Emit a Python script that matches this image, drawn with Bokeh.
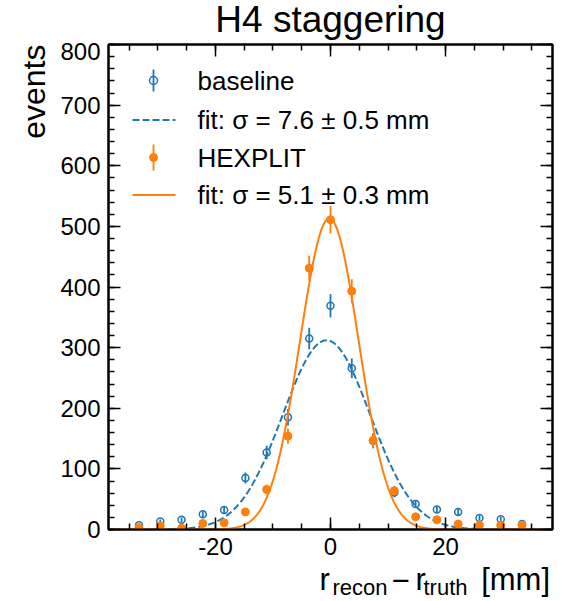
import numpy as np
from bokeh.plotting import figure
from bokeh.layouts import column
from bokeh.models import (Range1d, LinearAxis, SingleIntervalTicker, Label, Arrow,
                          BoxAnnotation, CustomJSTickFormatter, Title)
from bokeh.embed import file_html
from bokeh.resources import INLINE

# ---------------- data ----------------
bin_centers = [-33.3, -29.6, -25.9, -22.2, -18.5, -14.8, -11.1, -7.4, -3.7, 0.0,
               3.7, 7.4, 11.1, 14.8, 18.5, 22.2, 25.9, 29.6, 33.3]
baseline_counts = [7, 13, 16, 25, 32, 85, 127, 185, 315, 369,
                   266, 146, 61, 42, 33, 29, 19, 17, 9]
hexplit_counts = [3, 6, 2, 10, 11, 29, 66, 154, 431, 511,
                  393, 147, 64, 21, 16, 9, 7, 7, 7]

baseline_fit = {"amp": 312.0, "mu": -0.7, "sigma": 7.6}
hexplit_fit = {"amp": 513.0, "mu": -0.2, "sigma": 5.1}

legend_labels = ["baseline", "fit: σ = 7.6 ± 0.5 mm", "HEXPLIT", "fit: σ = 5.1 ± 0.3 mm"]
title_text = "H4 staggering"
y_label = "events"

x_lo, x_hi = -38.6, 38.6
y_lo, y_hi = 0, 800

BLUE = "#1f77b4"
ORANGE = "#ff7f0e"
FONT = "Liberation Sans"

W = 576
LEFT_B = 108        # left border: frame starts here (strips are frame-aligned to it)
TOP_H = 42          # title strip
MAIN_BT = 2         # main figure top border (frame top at 44)
FRAME_H = 485
MAIN_BB = 36
MAIN_H = MAIN_BT + FRAME_H + MAIN_BB
BOT_H = 601 - TOP_H - MAIN_H


def text_strip(width, height):
    f = figure(width=width, height=height, output_backend="svg", toolbar_location=None,
               x_axis_type=None, y_axis_type=None, min_border=0,
               x_range=Range1d(0, 1), y_range=Range1d(0, 1))
    f.outline_line_color = None
    f.background_fill_color = "white"
    f.border_fill_color = "white"
    f.xgrid.visible = False
    f.ygrid.visible = False
    return f


# ---------------- main figure ----------------
p = figure(width=W, height=MAIN_H, output_backend="svg", toolbar_location=None,
           x_range=Range1d(x_lo, x_hi), y_range=Range1d(y_lo, y_hi),
           min_border_left=LEFT_B, min_border_right=24,
           min_border_top=MAIN_BT, min_border_bottom=MAIN_BB)
p.background_fill_color = "white"
p.border_fill_color = "white"
p.outline_line_color = "black"
p.outline_line_width = 2
p.xgrid.visible = False
p.ygrid.visible = False


def style_axis(ax, show_labels):
    ax.axis_line_color = "black"
    ax.axis_line_width = 2
    ax.major_tick_in = 12
    ax.major_tick_out = 0
    ax.minor_tick_in = 6
    ax.minor_tick_out = 0
    ax.major_tick_line_width = 1.5
    ax.minor_tick_line_width = 1.5
    ax.major_tick_line_color = "black"
    ax.minor_tick_line_color = "black"
    ax.major_label_text_font = FONT
    ax.major_label_text_color = "black"
    if show_labels:
        ax.formatter = CustomJSTickFormatter(code="return tick.toFixed(0)")
        ax.major_label_text_font_size = "24px"
        ax.major_label_standoff = 8
    else:
        ax.formatter = CustomJSTickFormatter(code="return ''")
        ax.major_label_text_font_size = "0px"
        ax.major_label_standoff = 0


def xticker():
    return SingleIntervalTicker(interval=20, num_minor_ticks=4)


def yticker():
    return SingleIntervalTicker(interval=100, num_minor_ticks=5)


p.xaxis[0].ticker = xticker()
p.yaxis[0].ticker = yticker()
style_axis(p.xaxis[0], True)
style_axis(p.yaxis[0], True)

top_axis = LinearAxis(ticker=xticker())
style_axis(top_axis, False)
p.add_layout(top_axis, "above")
right_axis = LinearAxis(ticker=yticker())
style_axis(right_axis, False)
p.add_layout(right_axis, "right")

# y-axis label, aligned to the top of the frame
p.add_layout(Title(text=y_label, align="right", text_font=FONT, text_font_size="32px",
                   text_font_style="normal", text_color="black", standoff=12), "left")

# ---------------- data marks ----------------
xc = np.array(bin_centers)
b = np.array(baseline_counts, dtype=float)
h = np.array(hexplit_counts, dtype=float)
b_err = np.sqrt(b)
h_err = np.sqrt(h)

xf = np.linspace(x_lo, x_hi, 600)


def gauss(x, amp, mu, sigma):
    return amp * np.exp(-0.5 * ((x - mu) / sigma) ** 2)


p.segment(x0=xc, y0=b - b_err, x1=xc, y1=b + b_err, line_color=BLUE, line_width=1.8)
p.scatter(x=xc, y=b, marker="circle", size=7, fill_color=None, line_color=BLUE, line_width=1.5)
p.line(xf, gauss(xf, **baseline_fit), line_color=BLUE, line_width=2, line_dash="7 3")

p.segment(x0=xc, y0=h - h_err, x1=xc, y1=h + h_err, line_color=ORANGE, line_width=1.8)
p.scatter(x=xc, y=h, marker="circle", size=8, fill_color=ORANGE, line_color=ORANGE, line_width=1)
p.line(xf, gauss(xf, **hexplit_fit), line_color=ORANGE, line_width=2)

# ---------------- legend (screen units, relative to frame) ----------------
row_y = [449, 409.5, 372, 334.5]
key_x = 45
line_x0, line_x1 = 24, 67
text_x = 89

p.add_layout(Arrow(end=None, x_start=key_x, y_start=row_y[0] - 11, x_end=key_x, y_end=row_y[0] + 11,
                   start_units="screen", end_units="screen", line_color=BLUE, line_width=1.8))
p.add_layout(BoxAnnotation(left=key_x - 4, right=key_x + 4, bottom=row_y[0] - 4, top=row_y[0] + 4,
                           left_units="screen", right_units="screen", top_units="screen", bottom_units="screen",
                           fill_color=None, line_color=BLUE, line_alpha=1, line_width=1.5, border_radius=4))
p.add_layout(Arrow(end=None, x_start=line_x0, y_start=row_y[1], x_end=line_x1, y_end=row_y[1],
                   start_units="screen", end_units="screen", line_color=BLUE, line_width=2, line_dash="7 3"))
p.add_layout(Arrow(end=None, x_start=key_x, y_start=row_y[2] - 13, x_end=key_x, y_end=row_y[2] + 13,
                   start_units="screen", end_units="screen", line_color=ORANGE, line_width=1.8))
p.add_layout(BoxAnnotation(left=key_x - 4, right=key_x + 4, bottom=row_y[2] - 4, top=row_y[2] + 4,
                           left_units="screen", right_units="screen", top_units="screen", bottom_units="screen",
                           fill_color=ORANGE, fill_alpha=1, line_color=ORANGE, line_alpha=1, line_width=1,
                           border_radius=4))
p.add_layout(Arrow(end=None, x_start=line_x0, y_start=row_y[3], x_end=line_x1, y_end=row_y[3],
                   start_units="screen", end_units="screen", line_color=ORANGE, line_width=2))

for txt, yy in zip(legend_labels, row_y):
    p.add_layout(Label(x=text_x, y=yy, x_units="screen", y_units="screen", text=txt,
                       text_font=FONT, text_font_size="26px", text_color="black",
                       text_align="left", text_baseline="middle"))

# ---------------- title strip (frame-aligned with the main plot) ----------------
top = text_strip(W, TOP_H)
top.add_layout(Label(x=330 - LEFT_B, y=TOP_H - 19, x_units="screen", y_units="screen", text=title_text,
                     text_font=FONT, text_font_size="37px", text_color="black",
                     text_align="center", text_baseline="middle"))

# ---------------- x-label strip (frame-aligned with the main plot) ----------------
bot = text_strip(W, BOT_H)
mid_main = 21.8
mid_sub = 14.2
xlabel_parts = [
    ("r", 319, mid_main, "31px", "left"),
    ("recon", 332, mid_sub, "22px", "left"),
    ("\u2212", 391, mid_main, "31px", "left"),
    ("r", 415, mid_main, "31px", "left"),
    ("truth", 423, mid_sub, "22px", "left"),
    ("[mm]", 549.5, mid_main, "31px", "right"),
]
for txt, sx, sy, fs, al in xlabel_parts:
    bot.add_layout(Label(x=sx - LEFT_B, y=sy, x_units="screen", y_units="screen", text=txt,
                         text_font=FONT, text_font_size=fs, text_color="black",
                         text_align=al, text_baseline="middle"))

layout = column(top, p, bot, spacing=0)
open("out.html", "w").write(file_html(layout, INLINE))
